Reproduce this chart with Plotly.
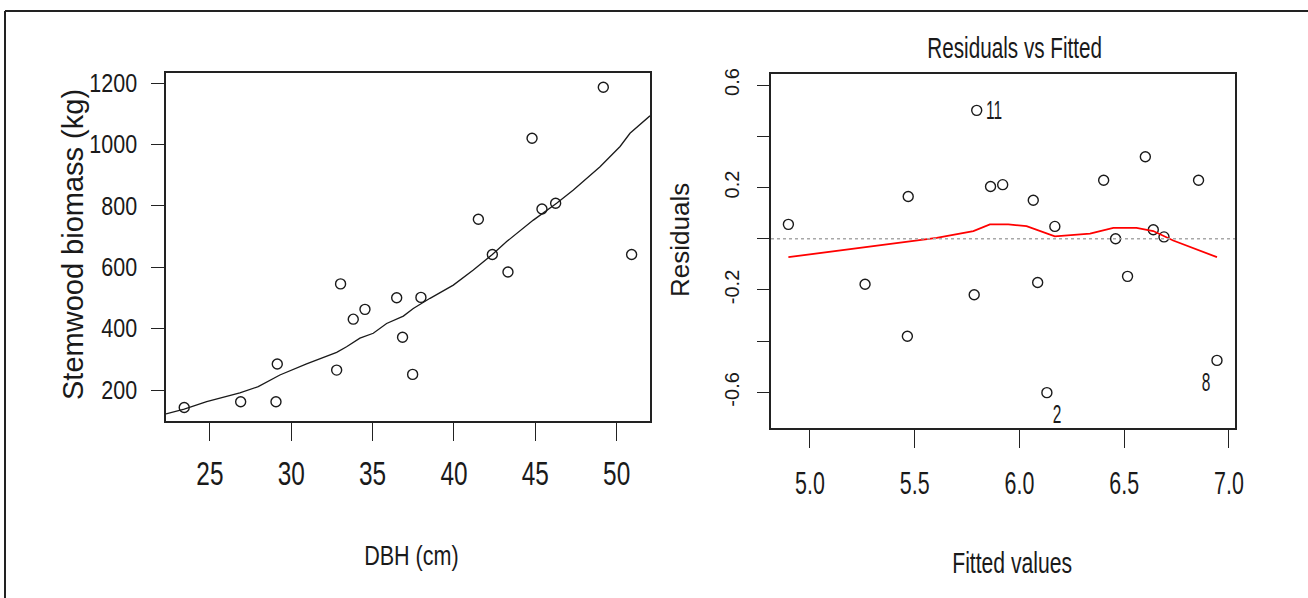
import json
import plotly.graph_objects as go

W, H = 1308, 598

# ---- left panel: stemwood biomass against DBH ----
dbh_cm = [23.42, 26.89, 29.06, 29.14, 32.79, 33.03, 33.81, 34.53, 36.48, 36.84,
          37.46, 37.97, 41.50, 42.36, 43.32, 44.80, 45.41, 46.25, 49.18, 50.92]
biomass_kg = [143, 162, 162, 285, 265, 546, 431, 463, 501, 372,
              251, 502, 757, 642, 585, 1021, 790, 809, 1187, 642]

# fitted curve drawn across the DBH range
curve_dbh = [22.30, 23.42, 24.80, 26.84, 27.97, 29.30, 30.94, 32.79, 33.40, 34.22,
             35.04, 35.86, 36.89, 37.50, 38.53, 39.96, 41.19, 42.36, 43.24, 44.88,
             46.31, 47.34, 48.98, 50.21, 50.82, 52.05]
curve_kg = [122, 138, 162, 191, 211, 249, 285, 323, 341, 369,
            385, 417, 441, 466, 499, 542, 591, 642, 684, 754,
            809, 852, 928, 994, 1037, 1094]

left_xticks = [25, 30, 35, 40, 45, 50]
left_yticks = [200, 400, 600, 800, 1000, 1200]

# ---- right panel: residuals vs fitted ----
fitted = [4.897, 5.263, 5.469, 5.465, 5.796, 5.784, 5.862, 5.920, 6.066, 6.087,
          6.131, 6.169, 6.402, 6.459, 6.516, 6.601, 6.639, 6.690, 6.855, 6.943]
residuals = [0.056, -0.178, 0.165, -0.381, 0.501, -0.219, 0.204, 0.211, 0.150, -0.171,
             -0.601, 0.048, 0.228, 0.000, -0.147, 0.320, 0.035, 0.007, 0.228, -0.475]

smooth_fitted = [4.897, 5.048, 5.223, 5.430, 5.605, 5.780, 5.859, 5.947, 6.034, 6.169,
                 6.337, 6.448, 6.559, 6.639, 6.734, 6.943]
smooth_resid = [-0.072, -0.056, -0.039, -0.017, 0.003, 0.030, 0.056, 0.056, 0.049, 0.009,
                0.020, 0.042, 0.042, 0.030, -0.007, -0.072]

# flagged observations: label, fitted, residual
flag_labels = ["11", "2", "8"]
flag_fitted = [5.796, 6.131, 6.943]
flag_resid = [0.501, -0.601, -0.475]

right_xticks = [5.0, 5.5, 6.0, 6.5, 7.0]
right_xtext = ["5.0", "5.5", "6.0", "6.5", "7.0"]
right_yticks = [-0.6, -0.4, -0.2, 0.0, 0.2, 0.4, 0.6]
right_ytext = ["-0.6", "", "-0.2", "", "0.2", "", "0.6"]

SANS = "Liberation Sans, Arial, sans-serif"
INK = "#1a1a1a"


def px_x(p):
    return p / W


def px_y(p):
    return 1 - p / H


fig = go.Figure()

fig.add_trace(go.Scatter(
    x=dbh_cm, y=biomass_kg, mode="markers", xaxis="x", yaxis="y",
    marker=dict(symbol="circle-open", size=10, color=INK, line=dict(width=1.4)),
    showlegend=False, hoverinfo="skip"))
fig.add_trace(go.Scatter(
    x=curve_dbh, y=curve_kg, mode="lines", xaxis="x", yaxis="y",
    line=dict(color=INK, width=1.3), showlegend=False, hoverinfo="skip"))

fig.add_trace(go.Scatter(
    x=fitted, y=residuals, mode="markers", xaxis="x2", yaxis="y2",
    marker=dict(symbol="circle-open", size=10, color=INK, line=dict(width=1.4)),
    showlegend=False, hoverinfo="skip"))
fig.add_trace(go.Scatter(
    x=smooth_fitted, y=smooth_resid, mode="lines", xaxis="x2", yaxis="y2",
    line=dict(color="#ff0000", width=1.8), showlegend=False, hoverinfo="skip"))

axis_common = dict(showgrid=False, zeroline=False, showline=True, mirror=True,
                   linecolor="#222222", linewidth=1.8, ticks="outside",
                   tickcolor="#222222", tickwidth=1.3)

fig.update_layout(
    width=W, height=H, margin=dict(l=0, r=0, t=0, b=0, autoexpand=False),
    paper_bgcolor="white", plot_bgcolor="white",
    xaxis=dict(axis_common, domain=[px_x(166), px_x(650)], range=[22.3, 52.05],
               tickvals=left_xticks, ticklen=18, ticklabelstandoff=5,
               tickfont=dict(family=SANS, size=33, color=INK), anchor="y"),
    yaxis=dict(axis_common, domain=[px_y(421), px_y(73)], range=[99, 1233.6],
               tickvals=left_yticks, ticklen=13, ticklabelstandoff=9,
               tickfont=dict(family=SANS, size=25, color=INK), anchor="x"),
    xaxis2=dict(axis_common, domain=[px_x(771), px_x(1235)], range=[4.814, 7.029],
                tickvals=right_xticks, ticktext=right_xtext,
                ticklen=18, ticklabelstandoff=8,
                tickfont=dict(family=SANS, size=32, color=INK), anchor="y2"),
    yaxis2=dict(axis_common, domain=[px_y(428), px_y(74)], range=[-0.739, 0.643],
                tickvals=right_yticks, ticktext=right_ytext, tickangle=-90,
                ticklen=12, ticklabelstandoff=10,
                tickfont=dict(family=SANS, size=20, color=INK), anchor="x2"),
)

# dotted zero reference in the residual panel
fig.add_shape(type="line", xref="x2 domain", yref="y2", x0=0, x1=1, y0=0, y1=0,
              line=dict(color="#a8a8a8", width=1.5, dash="dot"))

# outer frame (top and left edges)
fig.add_shape(type="line", xref="paper", yref="paper", x0=px_x(5), x1=1,
              y0=px_y(11), y1=px_y(11), line=dict(color="#222222", width=2))
fig.add_shape(type="line", xref="paper", yref="paper", x0=px_x(5), x1=px_x(5),
              y0=0, y1=px_y(11), line=dict(color="#222222", width=2))

# horizontal squeeze applied to each annotation's text (1 = untouched)
ann_squeeze = []

# labels of flagged observations
shifts = [(17, 0), (10, -21), (-11, -22)]
for lab, fx, ry, (dx, dy) in zip(flag_labels, flag_fitted, flag_resid, shifts):
    fig.add_annotation(x=fx, y=ry, xref="x2", yref="y2", text=lab, showarrow=False,
                       xshift=dx, yshift=dy, xanchor="center", yanchor="middle",
                       font=dict(family=SANS, size=25, color=INK))
    ann_squeeze.append(0.62)


def label(text, x, y, size, squeeze, angle=0):
    fig.add_annotation(x=px_x(x), y=px_y(y), xref="paper", yref="paper",
                       text=text, showarrow=False, textangle=angle,
                       xanchor="center", yanchor="middle",
                       font=dict(family=SANS, size=size, color=INK))
    ann_squeeze.append(squeeze)


label("Residuals vs Fitted", 1014, 47, 30, 0.69)
label("DBH (cm)", 411, 555, 28, 0.77)
label("Fitted values", 1012, 563, 29, 0.73)
label("Stemwood biomass (kg)", 73, 245, 29, 1, angle=-90)
label("Residuals", 680, 240, 26, 1, angle=-90)

# tick-label squeeze per axis (horizontal text only)
tick_squeeze = {"xtick": 0.74, "x2tick": 0.67, "ytick": 0.86}

squeeze_js = """
var gd = document.querySelector('.js-plotly-plot');
var TICKS = %s;
var ANN = %s;
function squeezeText(t, s) {
  if (!t || s === 1) return;
  var b = t.getBBox();
  var anchor = t.getAttribute('text-anchor') || 'start';
  var ax = anchor === 'end' ? b.x + b.width : (anchor === 'middle' ? b.x + b.width / 2 : b.x);
  var ay = b.y + b.height / 2;
  var tr = t.transform.baseVal.consolidate();
  if (tr) { var m = tr.matrix; ax = m.a * ax + m.c * ay + m.e; }
  var prev = t.getAttribute('transform') || '';
  t.setAttribute('transform', 'translate(' + ax + ',0) scale(' + s + ',1) translate(' + (-ax) + ',0) ' + prev);
}
Object.keys(TICKS).forEach(function (k) {
  gd.querySelectorAll('g.' + k + ' text').forEach(function (t) { squeezeText(t, TICKS[k]); });
});
gd.querySelectorAll('g.annotation').forEach(function (g) {
  var i = +g.getAttribute('data-index');
  if (ANN[i] !== undefined) squeezeText(g.querySelector('text'), ANN[i]);
});
""" % (json.dumps(tick_squeeze), json.dumps(ann_squeeze))

fig.write_html("out.html", post_script=squeeze_js)
